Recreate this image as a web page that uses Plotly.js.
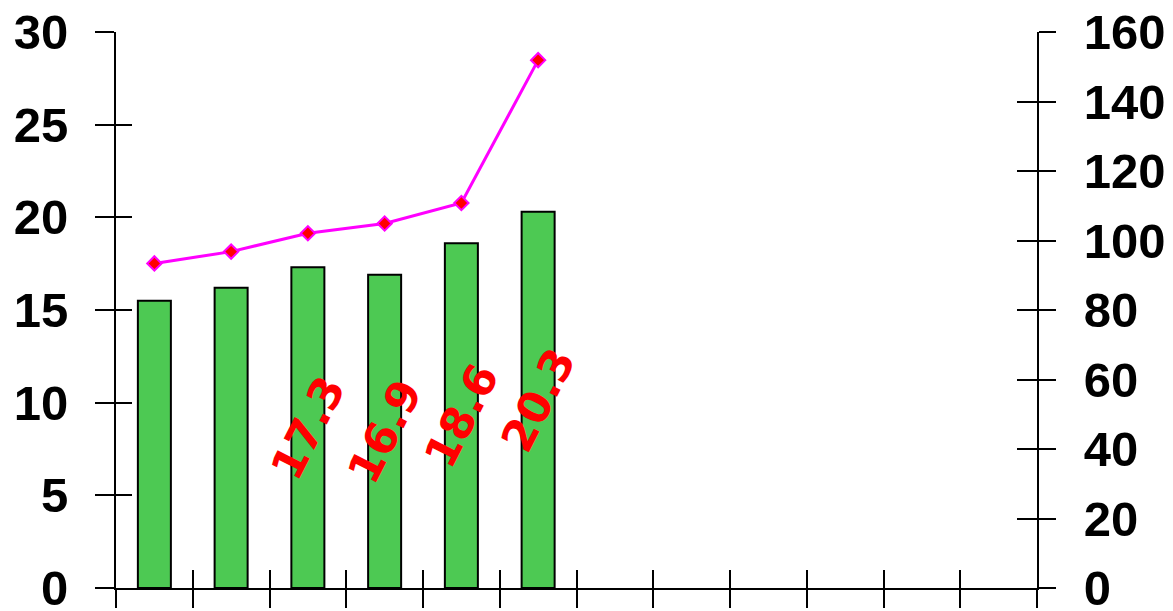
<!DOCTYPE html>
<html>
<head>
<meta charset="utf-8">
<script src="https://cdn.plot.ly/plotly-3.0.1.min.js"></script>
<style>html,body{margin:0;padding:0;background:#fff;}#chart{width:1173px;height:611px;}</style>
</head>
<body>
<div id="chart"></div>
<script>
// Categories (12 slots on the x axis; labels not shown in the reference)
var categories = ["1","2","3","4","5","6","7","8","9","10","11","12"];
// Bar series (left axis)
var barValues = [15.5, 16.2, 17.3, 16.9, 18.6, 20.3];
// Bar labels shown in the reference (first two are not shown)
var barLabels = ["", "", "17.3", "16.9", "18.6", "20.3"];
// Line series (right axis)
var lineValues = [93.4, 96.8, 102.1, 104.9, 110.8, 151.9];
// Axis tick settings
var leftRange = [0, 30], leftStep = 5;
var rightRange = [0, 160], rightStep = 20;

var xs = categories.slice(0, barValues.length);
var tickFont = {family: "Liberation Sans, Arial, sans-serif", size: 49, color: "#000", weight: "bold"};

var traces = [
  {
    type: "bar",
    x: xs,
    y: barValues,
    text: barLabels,
    textposition: "inside",
    insidetextanchor: "middle",
    textangle: -63,
    constraintext: "none",
    textfont: {family: "DejaVu Sans, sans-serif", size: 44, color: "#ff0000", weight: "bold"},
    marker: {color: "#4dc953", line: {color: "#000", width: 2}},
    width: 0.43,
    xaxis: "x", yaxis: "y",
    hoverinfo: "skip"
  },
  {
    type: "scatter",
    mode: "lines+markers",
    x: xs,
    y: lineValues,
    line: {color: "#ff00ff", width: 3},
    marker: {symbol: "diamond", size: 11, color: "#ff0000", line: {color: "#ff00ff", width: 2}},
    xaxis: "x", yaxis: "y2",
    hoverinfo: "skip"
  },
  // empty helper traces so the inner-tick overlay axes are drawn (cross ticks)
  {type: "scatter", x: [], y: [], xaxis: "x2", yaxis: "y3", hoverinfo: "skip", showlegend: false},
  {type: "scatter", x: [], y: [], xaxis: "x2", yaxis: "y4", hoverinfo: "skip", showlegend: false}
];

var layout = {
  width: 1173, height: 611,
  margin: {l: 116, r: 136, t: 32, b: 23, pad: 0},
  paper_bgcolor: "#fff", plot_bgcolor: "#fff",
  showlegend: false,
  xaxis: {
    type: "category", categoryorder: "array", categoryarray: categories,
    range: [-0.5, categories.length - 0.5],
    tickson: "boundaries", ticks: "outside", ticklen: 18, tickwidth: 2, tickcolor: "#000",
    showticklabels: false, showline: true, linecolor: "#000", linewidth: 2,
    showgrid: false, zeroline: false, fixedrange: true
  },
  xaxis2: {
    overlaying: "x", anchor: "y", side: "bottom", type: "linear",
    range: [-0.5, categories.length - 0.5], tick0: -0.5, dtick: 1,
    ticks: "inside", ticklen: 18, tickwidth: 2, tickcolor: "#000",
    showticklabels: false, showline: false, showgrid: false, zeroline: false
  },
  yaxis: {
    range: leftRange, dtick: leftStep, tick0: 0,
    ticks: "outside", ticklen: 19, tickwidth: 2, tickcolor: "#000",
    showline: true, linecolor: "#000", linewidth: 2,
    showgrid: false, zeroline: false, tickfont: tickFont,
    ticklabelstandoff: 17, ticklabeloverflow: "allow"
  },
  yaxis3: {
    overlaying: "y", anchor: "x2", side: "left",
    range: leftRange, dtick: leftStep, tick0: 0,
    ticks: "inside", ticklen: 16, tickwidth: 2, tickcolor: "#000",
    showticklabels: false, showline: false, showgrid: false, zeroline: false
  },
  yaxis2: {
    overlaying: "y", anchor: "x", side: "right",
    range: rightRange, dtick: rightStep, tick0: 0,
    ticks: "outside", ticklen: 17, tickwidth: 2, tickcolor: "#000",
    showline: true, linecolor: "#000", linewidth: 2,
    showgrid: false, zeroline: false, tickfont: tickFont,
    ticklabelstandoff: 18, ticklabeloverflow: "allow"
  },
  yaxis4: {
    overlaying: "y", anchor: "x2", side: "right",
    range: rightRange, dtick: rightStep, tick0: 0,
    ticks: "inside", ticklen: 20, tickwidth: 2, tickcolor: "#000",
    showticklabels: false, showline: false, showgrid: false, zeroline: false
  }
};

Plotly.newPlot("chart", traces, layout, {staticPlot: true, displayModeBar: false});
</script>
</body>
</html>
